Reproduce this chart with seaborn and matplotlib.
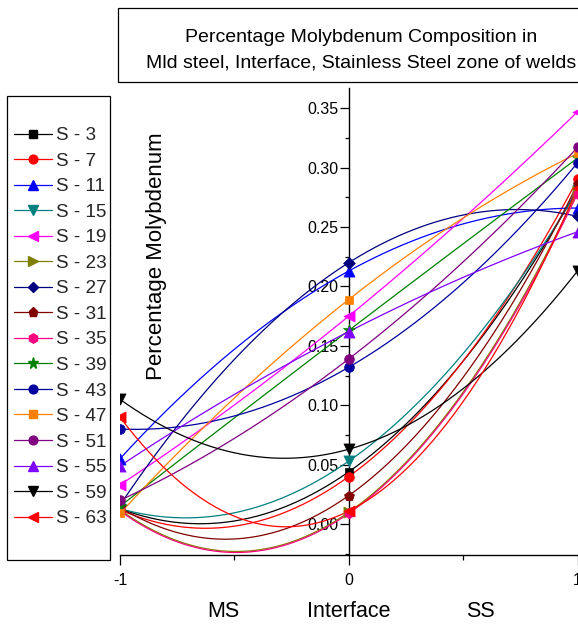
import numpy as np
import matplotlib
matplotlib.use("Agg")
import matplotlib.pyplot as plt
from matplotlib.lines import Line2D
from matplotlib.patches import Rectangle
from matplotlib.ticker import MultipleLocator, FormatStrFormatter
import seaborn as sns

# Weld zone positions: mild steel (-1), interface (0), stainless steel (+1)
positions = [-1, 0, 1]
zone_labels = ["MS", "Interface", "SS"]
zone_label_x = [-0.55, 0.0, 0.575]

# Molybdenum content (%) at MS, interface, SS for each weld sample
mo_s3 = [0.013, 0.044, 0.282]
mo_s7 = [0.012, 0.040, 0.290]
mo_s11 = [0.055, 0.213, 0.266]
mo_s15 = [0.013, 0.053, 0.281]
mo_s19 = [0.033, 0.175, 0.347]
mo_s23 = [0.012, 0.010, 0.280]
mo_s27 = [0.016, 0.220, 0.259]
mo_s31 = [0.014, 0.024, 0.286]
mo_s35 = [0.011, 0.009, 0.278]
mo_s39 = [0.015, 0.163, 0.308]
mo_s43 = [0.080, 0.132, 0.304]
mo_s47 = [0.009, 0.189, 0.312]
mo_s51 = [0.020, 0.139, 0.317]
mo_s55 = [0.049, 0.162, 0.246]
mo_s59 = [0.105, 0.063, 0.213]
mo_s63 = [0.090, 0.011, 0.283]

sample_names = ["S - 3", "S - 7", "S - 11", "S - 15", "S - 19", "S - 23",
                "S - 27", "S - 31", "S - 35", "S - 39", "S - 43", "S - 47",
                "S - 51", "S - 55", "S - 59", "S - 63"]
sample_values = [mo_s3, mo_s7, mo_s11, mo_s15, mo_s19, mo_s23, mo_s27,
                 mo_s31, mo_s35, mo_s39, mo_s43, mo_s47, mo_s51, mo_s55,
                 mo_s59, mo_s63]

colors = ["#000000", "#FF0000", "#0000FF", "#008080", "#FF00FF", "#808000",
          "#000080", "#800000", "#FF0080", "#008000", "#0000A0", "#FF8000",
          "#800080", "#8000FF", "#000000", "#FF0000"]
markers = ["s", "o", "^", "v", "<", ">", "D", "p", "h", "*", "o", "s",
           "o", "^", "v", "<"]
marker_sizes = [6, 7, 8, 8, 8, 8, 6, 7.5, 7.5, 9, 7, 6, 7, 8, 8, 8]

sns.set_theme(style="ticks")
plt.rcParams["font.family"] = ["Liberation Sans", "DejaVu Sans"]
plt.rcParams["axes.unicode_minus"] = False

W, H = 578, 627
fig = plt.figure(figsize=(W / 100, H / 100), dpi=100)
fig.patch.set_facecolor("white")
ax = fig.add_axes([120 / W, 72 / H, 457.5 / W, 467 / H])
ax.set_facecolor("white")

x_dense = np.linspace(-1, 1, 241)
handles = []
for i, (name, vals) in enumerate(zip(sample_names, sample_values)):
    c, m, ms = colors[i], markers[i], marker_sizes[i]
    # smooth spline-like curve through the three measured points
    coef = np.polyfit(positions, vals, 2)
    sns.lineplot(x=x_dense, y=np.polyval(coef, x_dense), color=c, lw=0.9,
                 ax=ax, legend=False, sort=False, zorder=2 + i * 0.01)
    sns.scatterplot(x=positions, y=vals, marker=m, color=c, edgecolor=c,
                    s=ms ** 2, linewidth=0.5, ax=ax, legend=False,
                    zorder=3 + i * 0.01)
    handles.append(Line2D([0], [0], color=c, lw=0.9, marker=m,
                          markersize=ms * 0.9, markerfacecolor=c,
                          markeredgecolor=c, label=name))

ax.set_xlim(-1, 1)
ax.set_ylim(-0.026, 0.367)

for side in ["top", "right"]:
    ax.spines[side].set_visible(False)
ax.spines["left"].set_position(("data", 0))
for side in ["left", "bottom"]:
    ax.spines[side].set_linewidth(1.0)
    ax.spines[side].set_color("black")

ax.xaxis.set_major_locator(MultipleLocator(1))
ax.xaxis.set_minor_locator(MultipleLocator(0.5))
ax.yaxis.set_major_locator(MultipleLocator(0.05))
ax.yaxis.set_minor_locator(MultipleLocator(0.025))
ax.yaxis.set_major_formatter(FormatStrFormatter("%.2f"))
ax.set_yticks([t for t in np.arange(0, 0.36, 0.05)])
ax.set_xticks(positions)
ax.set_xticklabels(["-1", "0", "1"])

ax.tick_params(axis="y", which="major", length=6.5, width=0.9, pad=1,
               labelsize=11.5, colors="black", direction="out")
ax.tick_params(axis="y", which="minor", length=3, width=0.9,
               direction="out", colors="black")
ax.tick_params(axis="x", which="major", length=7, width=0.9, pad=6,
               labelsize=11.5, colors="black", direction="out")
ax.tick_params(axis="x", which="minor", length=3.6, width=0.9,
               direction="out", colors="black")
ax.set_xlabel("")
ax.set_ylabel("")
ax.grid(False)

# zone names under the x axis
for lbl, xp in zip(zone_labels, zone_label_x):
    ax.text(xp, -0.122, lbl, transform=ax.get_xaxis_transform(),
            ha="center", va="center", fontsize=15.5, color="black")

fig.text(156 / W, 1 - 256 / H, "Percentage Molybdenum", rotation=90,
         ha="center", va="center", fontsize=16, color="black")

# title box
fig.add_artist(Rectangle((118 / W, 1 - 82 / H), 0.81, 74 / H,
                         transform=fig.transFigure, fill=False,
                         ec="black", lw=0.9))
fig.text(361 / W, 1 - 37 / H, "Percentage Molybdenum Composition in",
         ha="center", va="center", fontsize=14, color="black")
fig.text(361 / W, 1 - 63 / H,
         "Mld steel, Interface, Stainless Steel zone of welds",
         ha="center", va="center", fontsize=14, color="black")

# legend box
fig.add_artist(Rectangle((6.7 / W, 1 - 560 / H), 103.3 / W, 464.3 / H,
                         transform=fig.transFigure, fill=False,
                         ec="black", lw=0.9))
fig.legend(handles=handles, loc="upper left",
           bbox_to_anchor=(14 / W, 1 - 127 / H), frameon=False,
           fontsize=13.6, handlelength=2.0, handletextpad=0.25,
           labelspacing=0.44, borderpad=0, borderaxespad=0)

fig.savefig("out.png", dpi=100, facecolor="white")
